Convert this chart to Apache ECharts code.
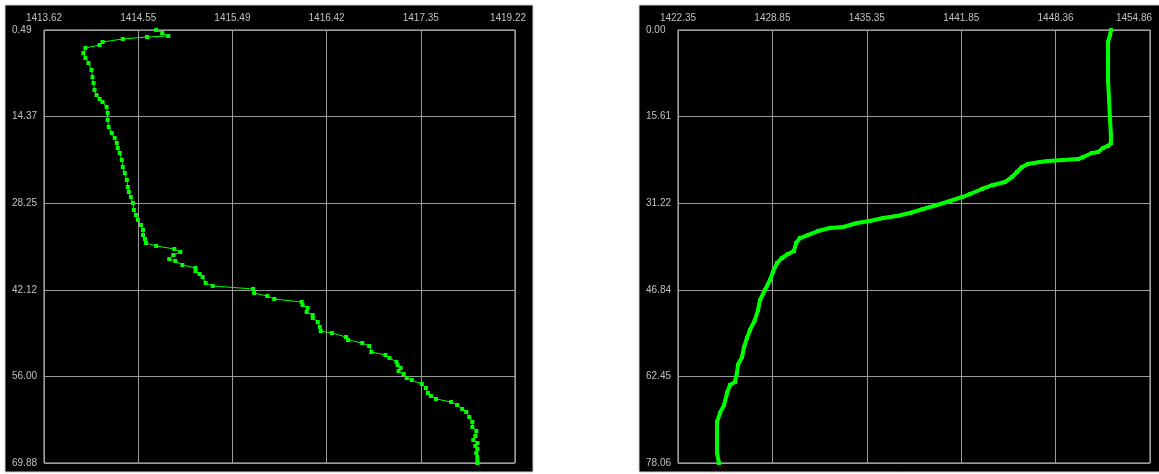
<!DOCTYPE html>
<html><head><meta charset="utf-8">
<script src="https://cdn.jsdelivr.net/npm/echarts@6/dist/echarts.min.js"></script>
<style>html,body{margin:0;padding:0;background:#fff;}#c{width:1159px;height:474px;}</style>
</head><body><div id="c"></div>
<script>
// Left profile
var leftXLabels = ['1413.62','1414.55','1415.49','1416.42','1417.35','1419.22'];
var leftYLabels = ['0.49','14.37','28.25','42.12','56.00','69.88'];
var leftX = [1414.73,1414.79,1414.85,1414.64,1414.40,1414.20,1414.17,1414.03,1414.01,1414.03,1414.06,1414.09,1414.10,1414.11,1414.12,1414.14,1414.17,1414.20,1414.24,1414.25,1414.25,1414.26,1414.29,1414.32,1414.34,1414.35,1414.37,1414.39,1414.40,1414.42,1414.44,1414.45,1414.46,1414.48,1414.50,1414.51,1414.53,1414.55,1414.58,1414.60,1414.60,1414.62,1414.63,1414.73,1414.91,1414.97,1414.90,1414.86,1414.92,1414.99,1415.12,1415.12,1415.16,1415.19,1415.22,1415.29,1415.69,1415.70,1415.83,1415.90,1416.17,1416.18,1416.23,1416.22,1416.28,1416.28,1416.33,1416.35,1416.36,1416.47,1416.61,1416.63,1416.77,1416.84,1416.86,1417.00,1417.04,1417.11,1417.12,1417.15,1417.13,1417.18,1417.21,1417.26,1417.36,1417.40,1417.42,1417.45,1417.50,1417.65,1417.71,1417.76,1417.80,1417.83,1417.86,1417.86,1417.90,1417.89,1417.87,1417.91,1417.89,1417.91,1417.90,1417.91,1417.91,1417.91];
var leftDepth = [0.49,0.97,1.45,1.61,1.93,2.41,2.89,3.37,4.18,4.98,5.78,6.90,8.02,8.98,10.11,10.91,11.55,12.03,12.83,13.79,14.91,16.03,17.00,17.80,18.60,19.40,20.20,21.32,22.44,23.41,24.53,25.65,26.45,27.25,28.21,29.34,30.14,30.94,31.74,32.54,33.34,33.98,34.62,35.10,35.58,36.07,36.55,37.19,37.51,38.15,38.63,39.11,39.59,40.07,41.03,41.51,41.99,42.64,43.12,43.60,44.08,44.56,45.04,45.68,46.16,46.64,47.28,48.08,48.73,49.05,49.69,50.17,50.65,51.13,52.09,52.57,53.05,53.69,54.17,54.65,55.14,55.62,56.26,56.58,57.22,57.86,58.66,59.14,59.62,60.10,60.58,61.22,61.71,62.51,63.31,64.11,64.75,65.55,66.19,66.67,67.15,67.63,68.28,68.92,69.56,69.88];
// Right profile
var rightXLabels = ['1422.35','1428.85','1435.35','1441.85','1448.36','1454.86'];
var rightYLabels = ['0.00','15.61','31.22','46.84','62.45','78.06'];
var rightX = [1452.17,1452.11,1451.97,1451.97,1451.97,1452.04,1452.11,1452.17,1452.17,1451.97,1451.62,1451.28,1450.87,1450.25,1449.90,1448.87,1447.84,1447.28,1446.46,1446.04,1445.70,1445.36,1444.87,1444.05,1443.29,1442.46,1441.91,1441.09,1440.19,1439.23,1438.33,1437.43,1436.47,1435.57,1434.68,1433.72,1432.82,1431.99,1431.30,1430.75,1430.48,1430.34,1429.93,1429.51,1429.17,1428.89,1428.69,1428.34,1428.00,1427.86,1427.65,1427.31,1427.10,1426.90,1426.76,1426.48,1426.41,1426.28,1425.93,1425.73,1425.52,1425.24,1425.04,1425.04,1425.04,1425.04,1425.17];
var rightDepth = [0.00,0.90,2.16,5.41,9.01,12.62,16.23,18.93,20.37,20.91,21.27,21.99,22.17,22.90,23.26,23.44,23.62,23.80,24.16,24.70,25.60,26.50,27.40,27.94,28.66,29.57,30.11,30.83,31.55,32.27,32.99,33.53,33.89,34.43,34.79,35.52,35.70,36.24,36.96,37.50,38.40,39.84,40.38,41.10,42.01,43.63,45.07,46.87,48.68,50.48,52.28,54.08,55.53,57.15,58.95,60.39,61.84,63.46,64.00,65.44,67.61,69.05,70.67,72.65,74.46,76.26,78.06];

function pairs(xs, ys){ return xs.map(function(x,i){ return [x, ys[i]]; }); }
function ticks(labels){ var n=labels.map(Number); return {min:n[0], interval:(n[4]-n[0])/4}; }

var lx = ticks(leftXLabels), ly = {min:0.49, interval:13.878};
var rx = {min:1422.35, interval:6.502}, ry = {min:0, interval:15.612};

var labelStyle = {color:'#c0c0c0', fontSize:10, fontFamily:'Liberation Sans, Arial, sans-serif'};
function fmt(labels, t, lastPad){
  return function(v){ var i=Math.round((v-t.min)/t.interval); var s=labels[i]||''; return (i===5 && lastPad)? '{l|'+s+'}' : s; };
}
function xAxis(gi, labels, t, pad){
  return {type:'value', gridIndex:gi, position:'top', min:t.min, max:t.min+5*t.interval, interval:t.interval,
    axisLine:{show:false}, axisTick:{show:false},
    splitLine:{show:true, lineStyle:{color:'#9c9c9c', width:1}},
    axisLabel:Object.assign({margin:7, showMinLabel:true, showMaxLabel:true, formatter:fmt(labels,t,true),
      rich:{l:Object.assign({padding:[0,pad,0,0]}, labelStyle)}}, labelStyle)};
}
function yAxis(gi, labels, t){
  return {type:'value', gridIndex:gi, inverse:true, min:t.min, max:t.min+5*t.interval, interval:t.interval,
    axisLine:{show:false}, axisTick:{show:false},
    splitLine:{show:true, lineStyle:{color:'#9c9c9c', width:1}},
    axisLabel:Object.assign({margin:32, align:'left', showMinLabel:true, showMaxLabel:true, formatter:fmt(labels,t,false)}, labelStyle)};
}

var chart = echarts.init(document.getElementById('c'), null, {renderer:'canvas'});
chart.setOption({
  animation:false,
  backgroundColor:'#ffffff',
  graphic:[
    {type:'rect', z:-10, shape:{x:5,y:5,width:528,height:467}, style:{fill:'#000', stroke:'#d0d0d0', lineWidth:1}},
    {type:'rect', z:-10, shape:{x:639,y:5,width:521,height:467}, style:{fill:'#000', stroke:'#d0d0d0', lineWidth:1}}
  ],
  grid:[
    {left:44, top:30, width:471, height:433, show:true, borderColor:'#c8c8c8', borderWidth:1, backgroundColor:'transparent'},
    {left:678, top:30, width:472, height:433, show:true, borderColor:'#c8c8c8', borderWidth:1, backgroundColor:'transparent'}
  ],
  xAxis:[xAxis(0, leftXLabels, lx, 14), xAxis(1, rightXLabels, rx, 32)],
  yAxis:[yAxis(0, leftYLabels, ly), yAxis(1, rightYLabels, ry)],
  series:[
    {type:'line', xAxisIndex:0, yAxisIndex:0, data:pairs(leftX, leftDepth), symbol:'rect', symbolSize:4, showSymbol:true,
      lineStyle:{color:'#00ff00', width:1}, itemStyle:{color:'#00ff00'}, clip:false},
    {type:'line', xAxisIndex:1, yAxisIndex:1, data:pairs(rightX, rightDepth), symbol:'rect', symbolSize:4, showSymbol:true,
      lineStyle:{color:'#00ff00', width:4}, itemStyle:{color:'#00ff00'}, clip:false}
  ]
});
</script></body></html>
